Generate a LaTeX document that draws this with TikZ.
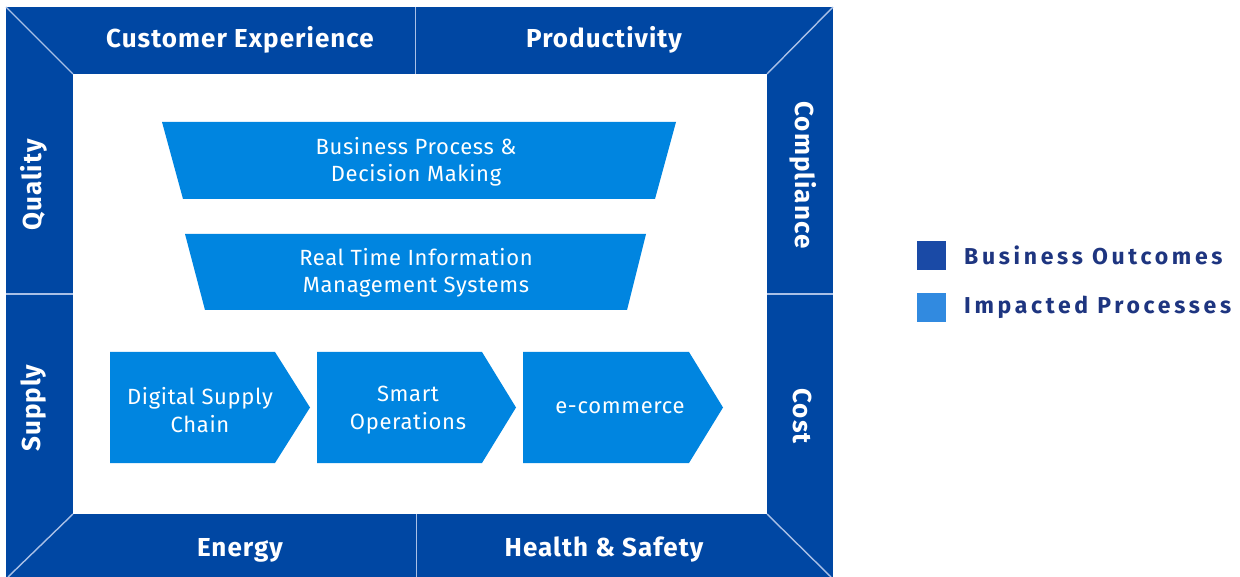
\documentclass[tikz,border=0pt]{standalone}
\usepackage{fontspec}
\setmainfont{Fira Sans}
\usetikzlibrary{shapes.geometric,shapes.symbols}
\definecolor{frameblue}{HTML}{0047A3}
\definecolor{procblue}{HTML}{0085E0}
\definecolor{legdark}{HTML}{1A4AA6}
\definecolor{leglight}{HTML}{318AE0}
\definecolor{legtext}{HTML}{1E3580}
\definecolor{sepline}{HTML}{A9C0E6}
\tikzset{
  outlabel/.style={text=white,font=\fontsize{26}{28}\selectfont\bfseries\addfontfeatures{LetterSpace=4},inner sep=0pt},
  proclabel/.style={text=white,font=\fontsize{22}{27.5}\selectfont\addfontfeatures{LetterSpace=3},align=center,inner sep=0pt},
  sep/.style={draw=sepline,line width=1.4pt},
  legtxt/.style={text=legtext,font=\fontsize{23}{26}\selectfont\bfseries\addfontfeatures{LetterSpace=16},anchor=west,inner sep=0pt},
}
\begin{document}
\begin{tikzpicture}[x=1pt,y=-1pt]
\useasboundingbox (0,0) rectangle (1240,577);
% frame
\fill[frameblue] (6,7) rectangle (833,577);
\fill[white] (73,74) rectangle (767,514);
\draw[sep] (6,7) -- (73,74);
\draw[sep] (833,7) -- (767,74);
\draw[sep] (73,514) -- (8,577);
\draw[sep] (767,514) -- (831,577);
\draw[sep] (415.5,7) -- (415.5,74);
\draw[sep] (416.5,514) -- (416.5,577);
\draw[sep] (6,294) -- (73,294);
\draw[sep] (767,294) -- (833,294);
% outcome labels
\node[outlabel] (ce) at (240,40) {Customer Experience};
\node[outlabel] (pr) at (604,40) {Productivity};
\node[outlabel] (en) at (240,550) {Energy};
\node[outlabel] (hs) at (604,550) {Health \& Safety};
\node[outlabel,rotate=90] (qu) at (34,185) {Quality};
\node[outlabel,rotate=90] (su) at (34,408) {Supply};
\node[outlabel,rotate=-90] (co) at (803,175) {Compliance};
\node[outlabel,rotate=-90] (cs) at (803,416) {Cost};
% trapezoids
\fill[procblue] (162,122) -- (676,122) -- (655,199) -- (183,199) -- cycle;
\node[proclabel] (bp) at (416,162) {Business Process \&\\Decision Making};
\fill[procblue] (185,234) -- (646,234) -- (627,310) -- (205,310) -- cycle;
\node[proclabel] (rt) at (416,273) {Real Time Information\\Management Systems};
% chevrons
\fill[procblue] (110,352) -- (275,352) -- (310,407.5) -- (275,463) -- (110,463) -- cycle;
\node[proclabel] (dsc) at (200,410) {Digital Supply\\Chain};
\fill[procblue] (317,352) -- (482,352) -- (516,407.5) -- (482,463) -- (317,463) -- cycle;
\node[proclabel] (so) at (408,410) {Smart\\Operations};
\fill[procblue] (523,352) -- (689,352) -- (723,407.5) -- (689,463) -- (523,463) -- cycle;
\node[proclabel] (ec) at (620,408) {e-commerce};
% legend
\fill[legdark] (917,241) rectangle (946,270);
\fill[leglight] (917,293) rectangle (946,322);
\node[legtxt] (lb) at (964,255.5) {Business Outcomes};
\node[legtxt] (li) at (964,307.5) {Impacted Processes};
\end{tikzpicture}
\end{document}
